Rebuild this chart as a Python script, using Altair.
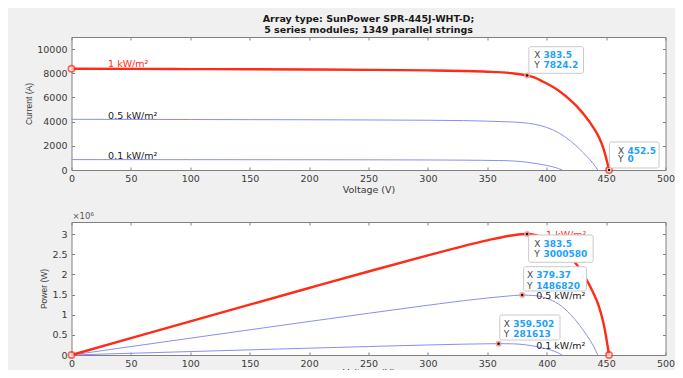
import altair as alt
import pandas as pd

RED = "#ff2b14"
BLUE = "#8b8df5"
FONT = "DejaVu Sans"
TXT = "#3a3a3a"
FRAME = "#808080"
TIPBLUE = "#1ea0ff"

# ---------------- data ----------------
# Voltage points (V) per irradiance curve
V_1 = [0, 50, 100, 150, 200, 250, 300, 330, 350, 370, 383.5, 390, 397, 405, 411, 418, 425, 432, 439, 444, 448, 452.5]
V_05 = [0, 50, 100, 150, 200, 250, 300, 330, 350, 365, 379.37, 390, 400, 410, 420, 428, 434, 439, 443]
V_01 = [0, 50, 100, 150, 200, 250, 300, 330, 345, 359.502, 372, 383, 392, 400, 407, 413]

# Current (A)
I_1 = [8370, 8360, 8345, 8330, 8310, 8285, 8240, 8190, 8130, 8010, 7824.2, 7640, 7300, 6880, 6500, 5950, 5300, 4500, 3550, 2700, 1700, 0]
I_05 = [4190, 4185, 4175, 4165, 4155, 4140, 4115, 4085, 4040, 3990, 3919, 3780, 3520, 3080, 2400, 1700, 1100, 550, 0]
I_01 = [860, 858, 855, 851, 847, 842, 830, 815, 800, 783, 745, 650, 525, 375, 215, 0]

# Power (W)
P_1 = [0, 418000, 834500, 1249500, 1662000, 2071250, 2472000, 2702700, 2845500, 2963700, 3000580, 2979600,
       2898100, 2786400, 2671500, 2487100, 2252500, 1944000, 1558450, 1198800, 761600, 0]
P_05 = [0, 209250, 417500, 624750, 831000, 1035000, 1234500, 1348050, 1414000, 1456350, 1486820, 1474200,
        1408000, 1262800, 1008000, 727600, 477400, 241450, 0]
P_01 = [0, 42900, 85500, 127650, 169400, 210500, 249000, 268950, 276000, 281613, 277140, 248950, 205800,
        150000, 87505, 0]

SERIES = ["1 kW/m²", "0.5 kW/m²", "0.1 kW/m²"]

# curve labels
lab_top_V = [30.8, 30.8, 30.8]
lab_top_I = [8740, 4466, 1183]
lab_bot_V = [399.5, 391.1, 391.1]
lab_bot_P = [2985000, 1464000, 223000]

# markers
top_ring_V = [0, 452.5]
top_ring_I = [8370, 0]
top_tip_V = [383.5]
top_tip_I = [7824.2]
top_dot_V = [383.5, 452.5]
top_dot_I = [7824.2, 0]
bot_ring_V = [0, 452.5]
bot_ring_P = [0, 0]
bot_tip_V = [383.5, 379.37, 359.502]
bot_tip_P = [3000580, 1486820, 281613]

# data tips: box corners, text positions, texts
top_box_x = [385.0, 452.8]
top_box_x2 = [431.0, 494.6]
top_box_y = [10197, 2316]
top_box_y2 = [7997, 165]
top_tip_lx = [389.5, 389.5, 460.0, 460.0]
top_tip_vx = [397.3, 397.3, 468.0, 468.0]
top_tip_ty = [9511, 8684, 1596, 885]
top_tip_letters = ["X", "Y", "X", "Y"]
top_tip_values = ["383.5", "7824.2", "452.5", "0"]

bot_box_x = [384.8, 380.6, 360.5]
bot_box_x2 = [439.1, 433.5, 411.2]
bot_box_y = [2977000, 2191000, 992500]
bot_box_y2 = [2300000, 1588000, 372000]
bot_tip_lx = [389.5, 389.5, 383.4, 383.4, 363.9, 363.9]
bot_tip_vx = [397.3, 397.3, 391.2, 391.2, 371.8, 371.8]
bot_tip_ty = [2747000, 2513000, 1985000, 1720000, 762000, 521000]
bot_tip_letters = ["X", "Y", "X", "Y", "X", "Y"]
bot_tip_values = ["383.5", "3000580", "379.37", "1486820", "359.502", "281613"]

X_TICKS = list(range(0, 501, 50))
Y_TOP_TICKS = list(range(0, 10001, 2000))
Y_BOT_TICKS = [0, 500000, 1000000, 1500000, 2000000, 2500000, 3000000]

TITLE = ["Array type: SunPower SPR-445J-WHT-D;", "5 series modules; 1349 parallel strings"]

W = 594
H = 133

# ---------------- tables ----------------
def long(vs, ys):
    rows = []
    for name, v, y in zip(SERIES, vs, ys):
        for a, b in zip(v, y):
            rows.append({"V": a, "val": b, "series": name})
    return pd.DataFrame(rows)

iv = long([V_1, V_05, V_01], [I_1, I_05, I_01])
pv = long([V_1, V_05, V_01], [P_1, P_05, P_01])

XS = alt.Scale(domain=[0, 500], nice=False)
YT = alt.Scale(domain=[0, 11000], nice=False)
YB = alt.Scale(domain=[0, 3300000], nice=False)


def x_bottom(ty):
    return alt.Axis(values=X_TICKS, orient="bottom", offset=-3, tickSize=3, domain=False, grid=False,
                    labelPadding=3, labelFont=FONT, labelFontSize=9.5, labelColor=TXT, tickColor=FRAME,
                    labelFlush=False, title="Voltage (V)", titleFont=FONT, titleFontSize=9.5,
                    titleFontWeight="normal", titleColor=TXT, titleY=ty, titleBaseline="middle")


def x_top():
    return alt.Axis(values=X_TICKS, orient="top", offset=-3, tickSize=3, domain=False, grid=False,
                    labels=False, tickColor=FRAME, title=None)


def y_left(vals, title, tx, expr):
    return alt.Axis(values=vals, orient="left", offset=-3, tickSize=3, domain=False, grid=False,
                    labelPadding=4.5, labelFont=FONT, labelFontSize=9.5, labelColor=TXT, tickColor=FRAME,
                    labelExpr=expr, labelFlush=False,
                    title=title, titleFont="Liberation Sans", titleFontSize=8.5, titleFontWeight="normal",
                    titleColor=TXT, titleX=tx, titleBaseline="middle", titleAlign="center")


def y_right(vals):
    return alt.Axis(values=vals, orient="right", offset=-3, tickSize=3, domain=False, grid=False,
                    labels=False, tickColor=FRAME, title=None)


def panel(df, ys, yvals, ytitle, ytx, yexpr, xty, labV, labY, ringV, ringY, tipV, tipY, dotV, dotY,
          bx, bx2, by, by2, lx, vx, ty, letters, values, extra=None):
    base_red = alt.Chart(df[df.series == SERIES[0]])
    base_blue = alt.Chart(df[df.series != SERIES[0]])
    blue = base_blue.mark_line(color=BLUE, strokeWidth=1, interpolate="monotone").encode(
        x=alt.X("V:Q", scale=XS, axis=x_top()),
        y=alt.Y("val:Q", scale=ys, axis=y_right(yvals)),
        detail="series:N")
    red = base_red.mark_line(color=RED, strokeWidth=2.4, interpolate="monotone").encode(
        x=alt.X("V:Q", scale=XS, axis=x_bottom(xty)),
        y=alt.Y("val:Q", scale=ys, axis=y_left(yvals, ytitle, ytx, yexpr)))

    def pts(v, y, **kw):
        return pd.DataFrame({"V": v, "val": y, **kw})

    lab = alt.Chart(pts(labV, labY, name=SERIES, col=[RED, "#222222", "#222222"])).mark_text(
        font=FONT, fontSize=9.5, align="left", baseline="middle").encode(
        x=alt.X("V:Q", scale=XS, axis=None), y=alt.Y("val:Q", scale=ys, axis=None),
        text="name:N", color=alt.Color("col:N", scale=None))
    ring = alt.Chart(pts(ringV, ringY)).mark_point(shape="circle", filled=False, color=RED, size=40,
                                                   strokeWidth=1.6, fill="#fff2f0").encode(
        x=alt.X("V:Q", scale=XS, axis=None), y=alt.Y("val:Q", scale=ys, axis=None))
    tip = alt.Chart(pts(tipV, tipY)).mark_point(shape="circle", filled=True, color="#f59a90", size=36,
                                                opacity=0.9).encode(
        x=alt.X("V:Q", scale=XS, axis=None), y=alt.Y("val:Q", scale=ys, axis=None))
    dot = alt.Chart(pts(dotV, dotY)).mark_point(shape="circle", filled=True, color="#111111", size=6,
                                                opacity=1).encode(
        x=alt.X("V:Q", scale=XS, axis=None), y=alt.Y("val:Q", scale=ys, axis=None))
    box = alt.Chart(pd.DataFrame({"x": bx, "x2": bx2, "y": by, "y2": by2})).mark_rect(
        fill="white", stroke="#c9c9c9", strokeWidth=1, cornerRadius=2).encode(
        x=alt.X("x:Q", scale=XS, axis=None), x2="x2:Q",
        y=alt.Y("y:Q", scale=ys, axis=None), y2="y2:Q")
    let = alt.Chart(pd.DataFrame({"x": lx, "y": ty, "t": letters})).mark_text(
        font=FONT, fontSize=9, align="left", baseline="middle", color="#444444").encode(
        x=alt.X("x:Q", scale=XS, axis=None), y=alt.Y("y:Q", scale=ys, axis=None), text="t:N")
    val = alt.Chart(pd.DataFrame({"x": vx, "y": ty, "t": values})).mark_text(
        font=FONT, fontSize=9, align="left", baseline="middle", fontWeight="bold", color=TIPBLUE).encode(
        x=alt.X("x:Q", scale=XS, axis=None), y=alt.Y("y:Q", scale=ys, axis=None), text="t:N")
    layers = [blue, red, lab, ring, tip, dot, box, let, val]
    if extra is not None:
        layers.append(extra)
    return alt.layer(*layers).resolve_axis(x="independent", y="independent").properties(width=W, height=H)


top = panel(iv, YT, Y_TOP_TICKS, "Current (A)", -46.2, "format(datum.value, 'd')", 22,
            lab_top_V, lab_top_I, top_ring_V, top_ring_I, top_tip_V, top_tip_I, top_dot_V, top_dot_I,
            top_box_x, top_box_x2, top_box_y, top_box_y2, top_tip_lx, top_tip_vx, top_tip_ty,
            top_tip_letters, top_tip_values).properties(
    title=alt.TitleParams(text=TITLE, font=FONT, fontSize=9.5, fontWeight="bold", anchor="middle",
                          offset=2, lineHeight=11, color="#1a1a1a"))

exp_lab = alt.Chart(pd.DataFrame({"V": [0], "val": [3300000], "t": ["×10⁶"]})).mark_text(
    font=FONT, fontSize=8.5, align="left", baseline="bottom", color="#555555", dx=1, dy=-1).encode(
    x=alt.X("V:Q", scale=XS, axis=None), y=alt.Y("val:Q", scale=YB, axis=None), text="t:N")

bottom = panel(pv, YB, Y_BOT_TICKS, "Power (W)", -31.2, "datum.value / 1000000 + ''", 20,
               lab_bot_V, lab_bot_P, bot_ring_V, bot_ring_P, bot_tip_V, bot_tip_P, bot_tip_V, bot_tip_P,
               bot_box_x, bot_box_x2, bot_box_y, bot_box_y2, bot_tip_lx, bot_tip_vx, bot_tip_ty,
               bot_tip_letters, bot_tip_values, extra=exp_lab)

chart = alt.vconcat(top, bottom, spacing=52, bounds="flush").properties(
    autosize=alt.AutoSizeParams(type="none"),
    padding={"left": 63.5, "top": 29, "right": 9.5, "bottom": 333},
).configure(background="#f0f0f0").configure_view(stroke=FRAME, strokeWidth=1, fill="white")

chart.save("out.html", embed_options={"renderer": "svg", "actions": False})
